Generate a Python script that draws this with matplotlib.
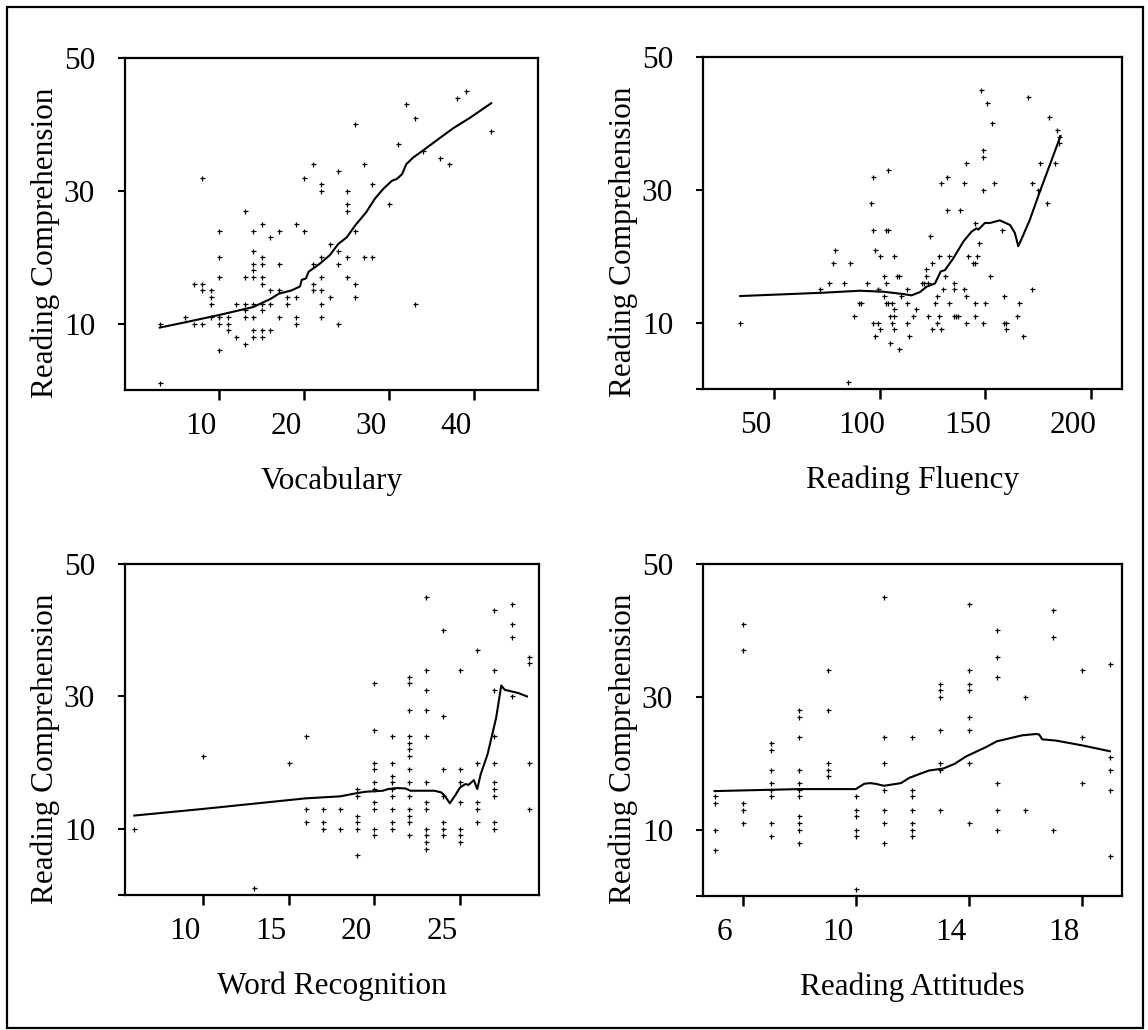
import matplotlib
matplotlib.use("Agg")
import matplotlib.pyplot as plt
from matplotlib.patches import Rectangle
from matplotlib.transforms import ScaledTranslation

plt.rcParams['font.family'] = ['Liberation Serif', 'DejaVu Serif']

W, H = 1148, 1030

# --- Vocabulary ---
vocab_x = [3, 3, 6, 7, 7, 8, 8, 8, 8, 9, 9, 9, 9,
           10, 10, 10, 10, 10, 10, 11, 11, 11, 12, 12,
           13, 13, 13, 13, 13, 13,
           14, 14, 14, 14, 14, 14, 14, 14, 14,
           15, 15, 15, 15, 15, 15, 15, 15, 15,
           16, 16, 16, 16, 17, 17, 17, 17, 18, 18,
           19, 19, 19, 19, 20, 20, 21, 21, 21, 21,
           22, 22, 22, 22, 22, 22, 22, 23, 23,
           24, 24, 24, 24, 25, 25, 25, 25, 25,
           26, 26, 26, 26, 27, 27, 28, 28,
           30, 31, 32, 33, 33, 34, 36, 37, 38, 39, 42]
vocab_y = [10, 1, 11, 16, 10, 32, 16, 15, 10, 15, 14, 13, 11,
           24, 20, 17, 11, 10, 6, 11, 10, 9, 13, 8,
           27, 17, 13, 12, 11, 7,
           24, 21, 19, 18, 17, 13, 11, 9, 8,
           25, 20, 19, 17, 16, 13, 12, 9, 8,
           23, 15, 13, 9, 24, 19, 15, 11, 14, 13,
           25, 14, 11, 10, 32, 24, 34, 19, 16, 15,
           31, 30, 20, 17, 15, 13, 11, 22, 14,
           33, 21, 19, 10, 30, 28, 27, 20, 17,
           40, 24, 16, 14, 34, 20, 31, 20,
           28, 37, 43, 41, 13, 36, 35, 34, 44, 45, 39]
vocab_fit_x = [3, 6, 10, 14, 16, 17, 18.5, 19.5, 19.7, 20.2, 20.5, 21.8, 23, 24,
               25, 26, 27.3, 28.3, 29.3, 30.3, 30.9, 31.5, 32, 32.8, 34, 36,
               37.5, 39.5, 42]
vocab_fit_y = [9.4, 10.2, 11.3, 12.5, 13.7, 14.5, 15.0, 15.6, 16.6, 16.8, 17.8, 19, 20.3, 22,
               23, 24.8, 26.8, 28.8, 30.3, 31.5, 31.8, 32.5, 34, 35, 36.1, 38,
               39.4, 41, 43.2]

# --- Reading Fluency ---
fluency_x = [34, 72, 76, 78, 79, 83, 86, 85, 88, 90, 91, 94, 96, 97, 97, 97,
             98, 98, 99, 99, 100, 100, 102, 102, 103, 104, 103, 103, 104, 104,
             105, 105, 106, 106, 107, 107, 107, 107, 108, 109, 109, 110,
             113, 113, 113, 114, 116, 117, 120, 121, 122, 122, 123, 123,
             124, 125, 125, 126, 127, 127, 128, 128, 129, 129, 130, 131,
             132, 132, 133, 133, 135, 135, 135, 136, 137, 138, 140, 140,
             141, 141, 141, 142, 144, 145, 145, 145, 145, 146, 147, 148,
             149, 149, 149, 150, 149, 151, 152, 153, 154, 158, 159, 159,
             160, 160, 165, 166, 168, 170, 172, 172, 175, 176, 179, 180,
             183, 184, 185, 185]
fluency_y = [10, 15, 16, 19, 21, 16, 19, 1, 11, 13, 13, 16, 28, 32, 24, 10,
             21, 8, 15, 10, 20, 9, 17, 14, 24, 24, 16, 13, 13, 33,
             11, 7, 13, 10, 20, 12, 11, 9, 17, 17, 6, 14,
             15, 13, 10, 8, 11, 12, 16, 16, 18, 17, 16, 11,
             23, 19, 9, 13, 14, 10, 20, 11, 31, 9, 15, 17,
             32, 27, 20, 13, 16, 15, 11, 11, 11, 27, 31, 15,
             34, 14, 10, 20, 19, 19, 25, 13, 11, 20, 22, 45,
             36, 35, 30, 13, 10, 43, 17, 40, 31, 24, 14, 10,
             10, 9, 11, 13, 8, 44, 31, 15, 30, 34, 28, 41,
             34, 39, 37, 38]
fluency_fit_x = [34, 73.3, 90.7, 101.7, 111.2, 115.1, 119.1, 122.2, 126.2, 128.9,
                 130.9, 134.9, 139.6, 143.5, 145.9, 146.7, 149.8, 152.2, 156.9,
                 161.7, 164, 165.6, 168, 171.1, 175.9, 180.6, 185.6]
fluency_fit_y = [14.0, 14.5, 14.8, 14.65, 14.3, 14.1, 14.6, 15.4, 15.9, 17.7,
                 17.9, 19.7, 22.2, 23.7, 24.2, 24.0, 25.0, 25.0, 25.4,
                 24.7, 23.5, 21.5, 23.2, 25.5, 29.8, 33.8, 38.1]

# --- Word Recognition ---
word_x = [6, 10, 13, 15, 16, 16, 16, 17, 17, 17, 18, 18,
          19, 19, 19, 19, 19, 19,
          20, 20, 20, 20, 20, 20, 20, 20, 20, 20,
          21, 21, 21, 21, 21, 21, 21, 21, 21,
          22, 22, 22, 22, 22, 22, 22, 22, 22, 22, 22, 22, 22, 22,
          23, 23, 23, 23, 23, 23, 23, 23, 23, 23, 23, 23,
          24, 24, 24, 24, 24, 24, 24,
          25, 25, 25, 25, 25, 25, 25,
          26, 26, 26, 26, 26,
          27, 27, 27, 27, 27, 27, 27, 27, 27, 27,
          28, 28, 28, 28, 29, 29, 29, 29]
word_y = [10, 21, 1, 20, 24, 13, 11, 13, 11, 10, 13, 10,
          16, 15, 12, 11, 10, 6,
          32, 25, 20, 19, 17, 16, 14, 13, 10, 9,
          24, 20, 18, 17, 16, 15, 13, 11, 10,
          33, 32, 28, 24, 23, 22, 21, 19, 17, 15, 13, 12, 11, 9,
          45, 34, 31, 28, 24, 17, 14, 13, 10, 9, 8, 7,
          40, 27, 19, 15, 11, 10, 9,
          34, 19, 17, 14, 10, 9, 8,
          37, 20, 14, 13, 11,
          43, 34, 31, 24, 20, 17, 16, 15, 11, 10,
          44, 41, 39, 30, 36, 35, 20, 13]
word_fit_x = [6, 10, 16, 18, 19, 19.5, 20.5, 20.8, 21.3, 21.8, 22.1, 23.5, 23.9,
              24.1, 24.4, 24.7, 25, 25.3, 25.5, 25.8, 26, 26.2, 26.6, 27.1,
              27.4, 27.6, 28, 28.4, 28.9]
word_fit_y = [12, 13, 14.6, 14.9, 15.4, 15.6, 15.75, 16, 16.15, 16.1, 15.75, 15.75, 15.5,
              15, 13.85, 15, 16.25, 16.75, 16.65, 17.35, 16, 18.25, 21.25, 26.75,
              31.65, 31, 30.75, 30.5, 30]

# --- Reading Attitudes ---
attitude_x = [5, 5, 5, 5, 6, 6, 6, 6, 6,
              7, 7, 7, 7, 7, 7, 7, 7,
              8, 8, 8, 8, 8, 8, 8, 8, 8, 8, 8,
              9, 9, 9, 9, 9, 10, 10, 10, 10, 10, 10,
              11, 11, 11, 11, 11, 11, 11,
              12, 12, 12, 12, 12, 12, 12,
              13, 13, 13, 13, 13, 13, 13,
              14, 14, 14, 14, 14, 14, 14, 14,
              15, 15, 15, 15, 15, 15, 16, 16, 17, 17, 17,
              18, 18, 18, 19, 19, 19, 19, 19]
attitude_y = [15, 14, 10, 7, 41, 37, 14, 13, 11,
              23, 22, 19, 17, 16, 15, 11, 9,
              28, 27, 24, 19, 17, 16, 15, 12, 11, 10, 8,
              34, 28, 20, 19, 18, 15, 13, 12, 10, 9, 1,
              45, 24, 20, 16, 13, 11, 8,
              24, 16, 15, 13, 11, 10, 9,
              32, 31, 30, 25, 20, 19, 13,
              44, 34, 32, 31, 27, 25, 20, 11,
              40, 36, 33, 17, 13, 10, 30, 13, 43, 39, 10,
              34, 24, 17, 35, 21, 19, 16, 6]
attitude_fit_x = [5, 8, 9.1, 10, 10.3, 10.5, 10.7, 11, 11.3, 11.6, 11.9, 12.4, 12.6,
                  13.1, 13.5, 13.9, 14.2, 14.6, 15, 15.5, 15.9, 16.4, 16.5, 16.6,
                  17.1, 18, 19]
attitude_fit_y = [15.8, 16.1, 16.1, 16.1, 16.9, 17, 16.9, 16.6, 16.8, 17, 17.8, 18.6, 18.9,
                  19.2, 19.9, 21, 21.6, 22.4, 23.3, 23.8, 24.2, 24.4, 24.3, 23.6,
                  23.4, 22.7, 21.8]

panels = [
    # (left, top, right, bottom) in pixels, xlim, xticks, label, data
    ((125, 58, 538, 390), (-1.1, 47.5), [10, 20, 30, 40], 'Vocabulary',
     vocab_x, vocab_y, vocab_fit_x, vocab_fit_y, False),
    ((703, 57, 1122, 389), (16.4, 214.7), [50, 100, 150, 200], 'Reading Fluency',
     fluency_x, fluency_y, fluency_fit_x, fluency_fit_y, True),
    ((125, 564, 539, 895), (5.46, 29.6), [10, 15, 20, 25], 'Word Recognition',
     word_x, word_y, word_fit_x, word_fit_y, True),
    ((703, 564, 1122, 896), (4.59, 19.43), [6, 10, 14, 18], 'Reading Attitudes',
     attitude_x, attitude_y, attitude_fit_x, attitude_fit_y, True),
]

fig = plt.figure(figsize=(W / 100, H / 100), dpi=100)
shift = ScaledTranslation(-0.18, 0, fig.dpi_scale_trans)

for (l, t, r, b), xlim, xticks, xlabel, px, py, fx, fy, zero_tick in panels:
    ax = fig.add_axes([l / W, 1 - b / H, (r - l) / W, (b - t) / H])
    ax.plot(px, py, linestyle='none', marker='+', color='black',
            markersize=3.6, markeredgewidth=0.9)
    ax.plot(fx, fy, color='black', linewidth=1.5)
    ax.set_xlim(*xlim)
    ax.set_ylim(0, 50)
    ax.set_xticks(xticks)
    ax.set_xticklabels([str(v) for v in xticks])
    if zero_tick:
        ax.set_yticks([0, 10, 30, 50])
        ax.set_yticklabels(['', '10', '30', '50'])
    else:
        ax.set_yticks([10, 30, 50])
        ax.set_yticklabels(['10', '30', '50'])
    for s in ax.spines.values():
        s.set_linewidth(1.6)
    ax.tick_params(axis='x', length=7.5, width=1.8, pad=8.5, labelsize=22.5)
    ax.tick_params(axis='y', length=5, width=1.5, pad=16.5, labelsize=22.5)
    for lbl in ax.get_xticklabels():
        lbl.set_transform(lbl.get_transform() + shift)

    fig.text((l - 80) / W, 1 - ((t + b) / 2 + 19) / H, 'Reading Comprehension',
             rotation=90, ha='center', va='center', fontsize=22.5)
    fig.text((l + r) / 2 / W, 1 - (b + 91) / H, xlabel,
             ha='center', va='center', fontsize=22.5)

fig.patches.append(Rectangle((7 / W, 1 - 1028 / H), 1136 / W, 1021 / H,
                             transform=fig.transFigure, fill=False,
                             edgecolor='black', linewidth=1.6))

fig.savefig('out.png', dpi=100)
